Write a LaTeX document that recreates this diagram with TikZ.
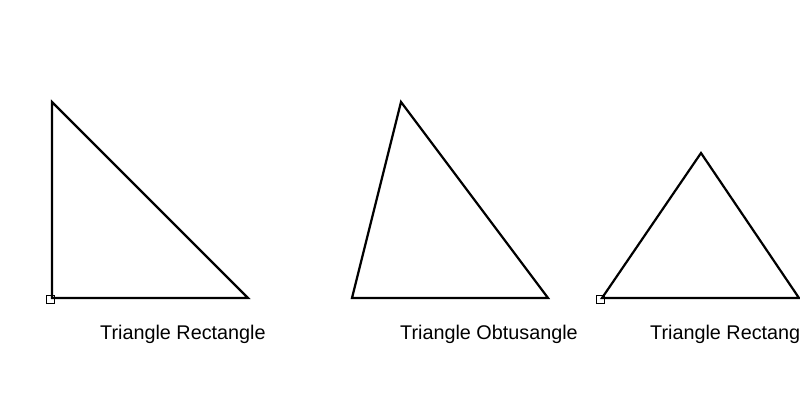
\documentclass[tikz,border=0pt]{standalone}
\usepackage{fontspec}
\setmainfont{Liberation Sans}
\begin{document}
\begin{tikzpicture}[x=1pt,y=-1pt,
  tri/.style={draw=black,line width=2.2pt,line join=miter},
  rightmark/.style={draw=black,line width=1.6pt},
  label/.style={anchor=base west,inner sep=0pt,font=\fontsize{19.8}{22}\selectfont}]
\useasboundingbox (0,0) rectangle (800,400);
\clip (0,0) rectangle (800,400);
% Triangle 1
\coordinate (a1) at (52,298);
\coordinate (b1) at (52,102);
\coordinate (c1) at (248,298);
\draw[tri] (a1) -- (b1) -- (c1) -- cycle;
\draw[rightmark] (46.5,295.5) rectangle (54.5,303.5);
\node[label] (t1) at (100,339) {Triangle Rectangle};
% Triangle 2
\coordinate (a2) at (352,298);
\coordinate (b2) at (401,102);
\coordinate (c2) at (548,298);
\draw[tri] (a2) -- (b2) -- (c2) -- cycle;
\node[label] (t2) at (400,339) {Triangle Obtusangle};
% Triangle 3
\coordinate (a3) at (602,298);
\coordinate (b3) at (701,153);
\coordinate (c3) at (799,298);
\draw[tri] (a3) -- (b3) -- (c3) -- cycle;
\draw[rightmark] (596.5,295.5) rectangle (604.5,303.5);
\node[label] (t3) at (650,339) {Triangle Rectangle};
\end{tikzpicture}
\end{document}
